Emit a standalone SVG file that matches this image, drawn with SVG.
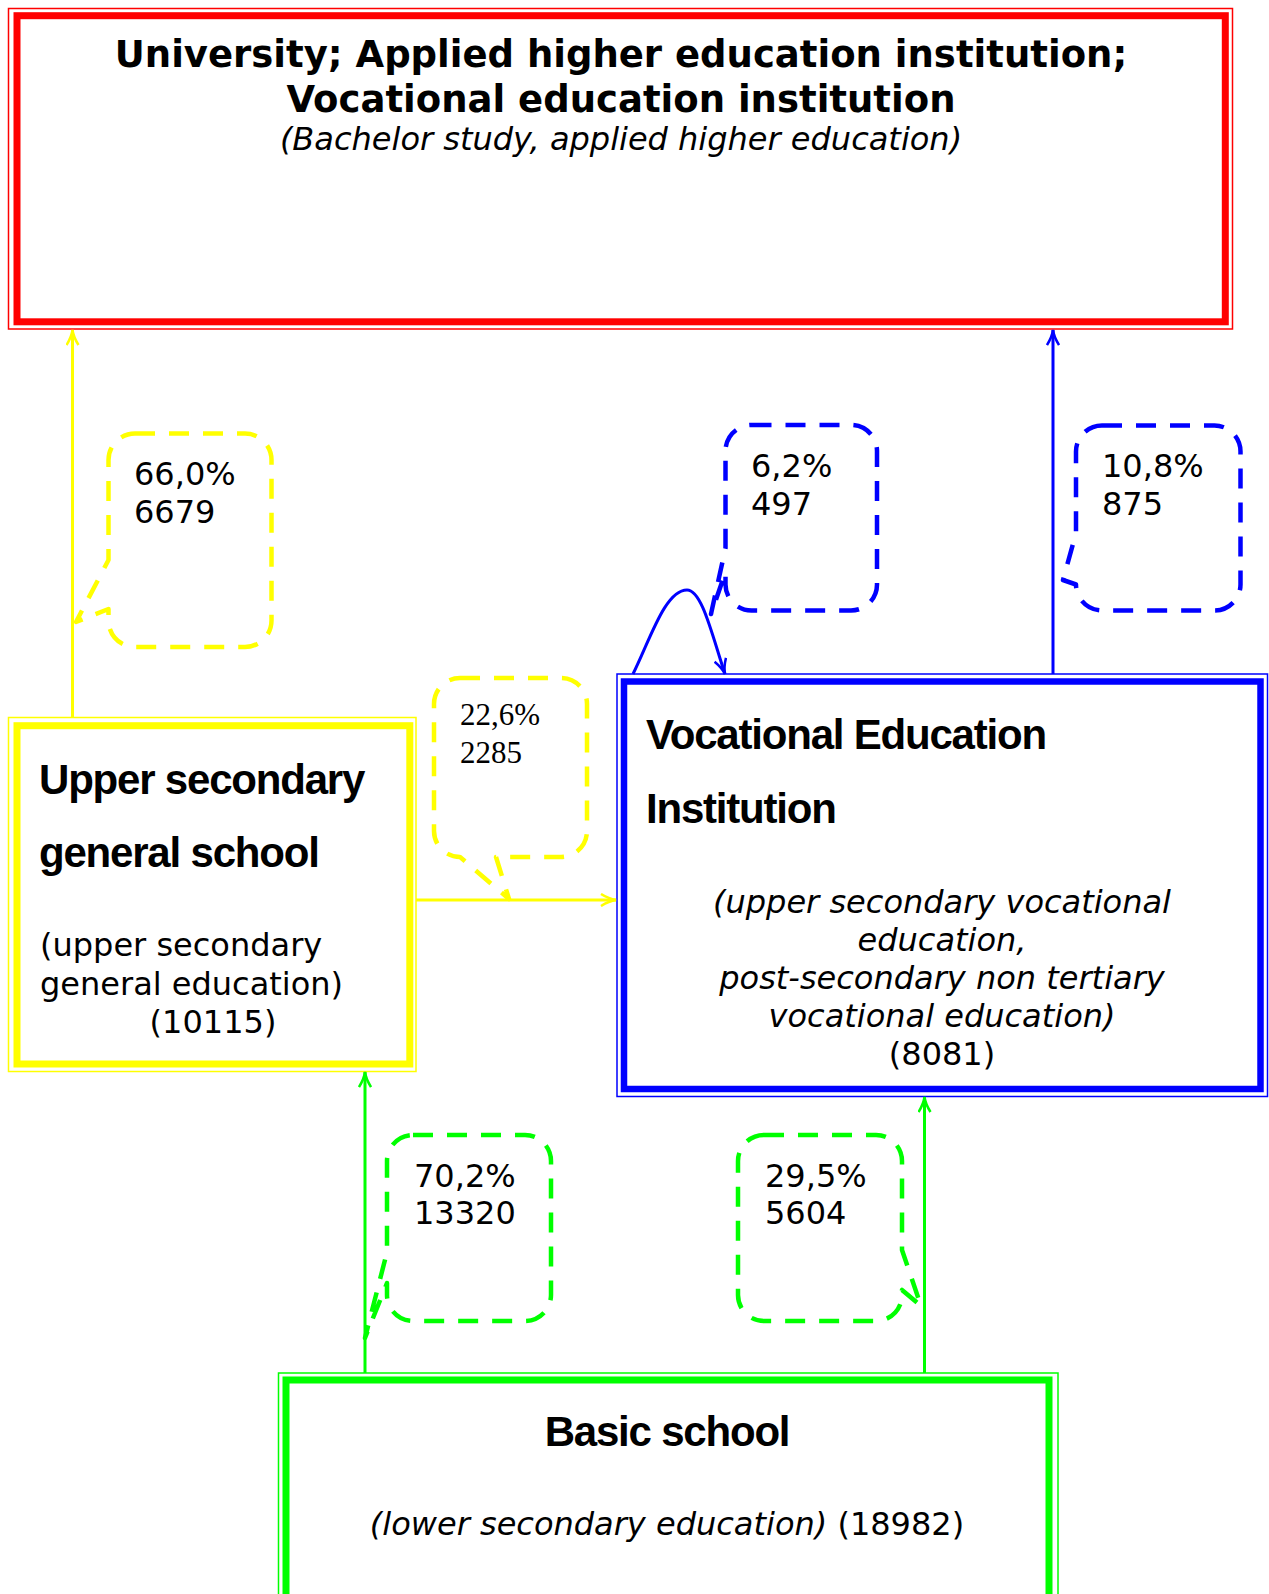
<svg xmlns="http://www.w3.org/2000/svg" width="1269" height="1594" viewBox="0 0 1269 1594">
<style>
.box{fill:none}
.thin{stroke-width:1.5}
.thick{stroke-width:7}
.conn{fill:none;stroke-width:3}
.bub{fill:none;stroke-width:4.5;stroke-dasharray:20 14;stroke-linejoin:round}
.t{font-family:"DejaVu Sans",Verdana,sans-serif;fill:#000}
.tb{font-family:"DejaVu Sans",Verdana,sans-serif;font-weight:bold;fill:#000}
.ti{font-family:"DejaVu Sans",Verdana,sans-serif;font-style:italic;fill:#000}
.ab{font-family:"Liberation Sans",Arial,sans-serif;font-weight:bold;font-size:42px;letter-spacing:-1.2px;fill:#000}
.num{font-family:"DejaVu Sans",Verdana,sans-serif;font-size:32px;fill:#000}
.ser{font-family:"Liberation Serif","Times New Roman",serif;font-size:31px;fill:#000}
</style>
<defs>
<marker id="ay" markerUnits="userSpaceOnUse" viewBox="0 0 18 14" markerWidth="18" markerHeight="14" refX="16" refY="7" orient="auto"><path d="M1,1 Q9,6 16,7 Q9,8 1,13" fill="none" stroke="#ffff00" stroke-width="2.5"/></marker>
<marker id="ab" markerUnits="userSpaceOnUse" viewBox="0 0 18 14" markerWidth="18" markerHeight="14" refX="16" refY="7" orient="auto"><path d="M1,1 Q9,6 16,7 Q9,8 1,13" fill="none" stroke="#0000ff" stroke-width="2.5"/></marker>
<marker id="ag" markerUnits="userSpaceOnUse" viewBox="0 0 18 14" markerWidth="18" markerHeight="14" refX="16" refY="7" orient="auto"><path d="M1,1 Q9,6 16,7 Q9,8 1,13" fill="none" stroke="#00ff00" stroke-width="2.5"/></marker>
</defs>
<rect width="1269" height="1594" fill="#fff"/>

<g id="node-university">
<rect class="box thin" x="8.5" y="8.5" width="1224" height="320.5" stroke="#ff0000"/>
<rect class="box thick" x="17" y="15.7" width="1208.3" height="306.1" stroke="#ff0000"/>
<text class="tb" font-size="37" x="621" y="67" text-anchor="middle">University; Applied higher education institution;</text>
<text class="tb" font-size="37" x="621" y="112" text-anchor="middle">Vocational education institution</text>
<text class="ti" font-size="32" x="621" y="150" text-anchor="middle">(Bachelor study, applied higher education)</text>
</g>

<g id="node-upper-secondary">
<rect class="box thin" x="8.5" y="717.5" width="407.5" height="354" stroke="#ffff00"/>
<rect class="box thick" x="17" y="725.7" width="392.8" height="338.3" stroke="#ffff00"/>
<text class="ab" x="39" y="794">Upper secondary</text>
<text class="ab" x="39" y="867">general school</text>
<text class="t" font-size="32" x="40" y="956">(upper secondary</text>
<text class="t" font-size="32" x="40" y="995">general education)</text>
<text class="t" font-size="32" x="213" y="1033" text-anchor="middle">(10115)</text>
</g>

<g id="node-vocational">
<rect class="box thin" x="617" y="674" width="650.5" height="422.5" stroke="#0000ff"/>
<rect class="box thick" x="624" y="681.5" width="636.5" height="407.5" stroke="#0000ff" style="stroke-width:6.5"/>
<text class="ab" x="646" y="749">Vocational Education</text>
<text class="ab" x="646" y="823">Institution</text>
<text class="ti" font-size="32" x="942" y="913" text-anchor="middle">(upper secondary vocational</text>
<text class="ti" font-size="32" x="942" y="951" text-anchor="middle">education,</text>
<text class="ti" font-size="32" x="942" y="989" text-anchor="middle">post-secondary non tertiary</text>
<text class="ti" font-size="32" x="942" y="1027" text-anchor="middle">vocational education)</text>
<text class="t" font-size="32" x="942" y="1065" text-anchor="middle">(8081)</text>
</g>

<g id="node-basic">
<rect class="box thin" x="278.5" y="1373" width="779.5" height="300" stroke="#00ff00"/>
<rect class="box thick" x="286" y="1380" width="763" height="300" stroke="#00ff00"/>
<text class="ab" x="667" y="1446" text-anchor="middle">Basic school</text>
<text class="t" font-size="32" x="667" y="1535" text-anchor="middle"><tspan font-style="italic">(lower secondary education)</tspan> (18982)</text>
</g>

<g id="connectors">
<line class="conn" x1="72.5" y1="717.5" x2="72.5" y2="330" stroke="#ffff00" marker-end="url(#ay)"/>
<line class="conn" x1="416" y1="900" x2="616" y2="900" stroke="#ffff00" marker-end="url(#ay)"/>
<line class="conn" x1="1053" y1="674" x2="1053" y2="330" stroke="#0000ff" marker-end="url(#ab)"/>
<path class="conn" d="M633,674 C650,640 665,590 687,590 C702,590 712,635 725,674" stroke="#0000ff" marker-end="url(#ab)"/>
<line class="conn" x1="365" y1="1373" x2="365" y2="1072" stroke="#00ff00" marker-end="url(#ag)"/>
<line class="conn" x1="924.5" y1="1373" x2="924.5" y2="1097" stroke="#00ff00" marker-end="url(#ag)"/>
</g>

<g id="label-66">
<path class="bub" stroke="#ffff00" d="M135,433.5 H245 A26.5,26.5 0 0 1 271.5,460 V620.5 A26.5,26.5 0 0 1 245,647 H135 A26.5,26.5 0 0 1 108.5,620.5 V609 L76,622 L108.5,560 V460 A26.5,26.5 0 0 1 135,433.5 Z"/>
<text class="num" x="134" y="485">66,0%</text>
<text class="num" x="134" y="523">6679</text>
</g>

<g id="label-22">
<path class="bub" stroke="#ffff00" d="M460,678 H561 A26,26 0 0 1 587,704 V831 A26,26 0 0 1 561,857 H496 L509,899 L460,857 A26,26 0 0 1 434,831 V704 A26,26 0 0 1 460,678 Z"/>
<text class="ser" x="460" y="725">22,6%</text>
<text class="ser" x="460" y="763">2285</text>
</g>

<g id="label-6">
<path class="bub" stroke="#0000ff" d="M751.5,425 H851 A26,26 0 0 1 877,451 V584.5 A26,26 0 0 1 851,610.5 H751.5 A26,26 0 0 1 725.5,584.5 V572 L711,614 L725.5,548 V451 A26,26 0 0 1 751.5,425 Z"/>
<text class="num" x="751" y="477">6,2%</text>
<text class="num" x="751" y="515">497</text>
</g>

<g id="label-10">
<path class="bub" stroke="#0000ff" d="M1102,425.5 H1214.5 A26,26 0 0 1 1240.5,451.5 V584.5 A26,26 0 0 1 1214.5,610.5 H1102 A26,26 0 0 1 1076,584.5 L1063,580 L1076,533 V451.5 A26,26 0 0 1 1102,425.5 Z"/>
<text class="num" x="1102" y="477">10,8%</text>
<text class="num" x="1102" y="515">875</text>
</g>

<g id="label-70">
<path class="bub" stroke="#00ff00" d="M413,1135 H525 A26,26 0 0 1 551,1161 V1295 A26,26 0 0 1 525,1321 H413 A26,26 0 0 1 387,1295 V1283 L365,1338 L387,1252 V1161 A26,26 0 0 1 413,1135 Z"/>
<text class="num" x="414" y="1187">70,2%</text>
<text class="num" x="414" y="1224">13320</text>
</g>

<g id="label-29">
<path class="bub" stroke="#00ff00" d="M764,1135 H876 A26,26 0 0 1 902,1161 V1250 L921,1306 L902,1290 V1295 A26,26 0 0 1 876,1321 H764 A26,26 0 0 1 738,1295 V1161 A26,26 0 0 1 764,1135 Z"/>
<text class="num" x="765" y="1187">29,5%</text>
<text class="num" x="765" y="1224">5604</text>
</g>
</svg>
